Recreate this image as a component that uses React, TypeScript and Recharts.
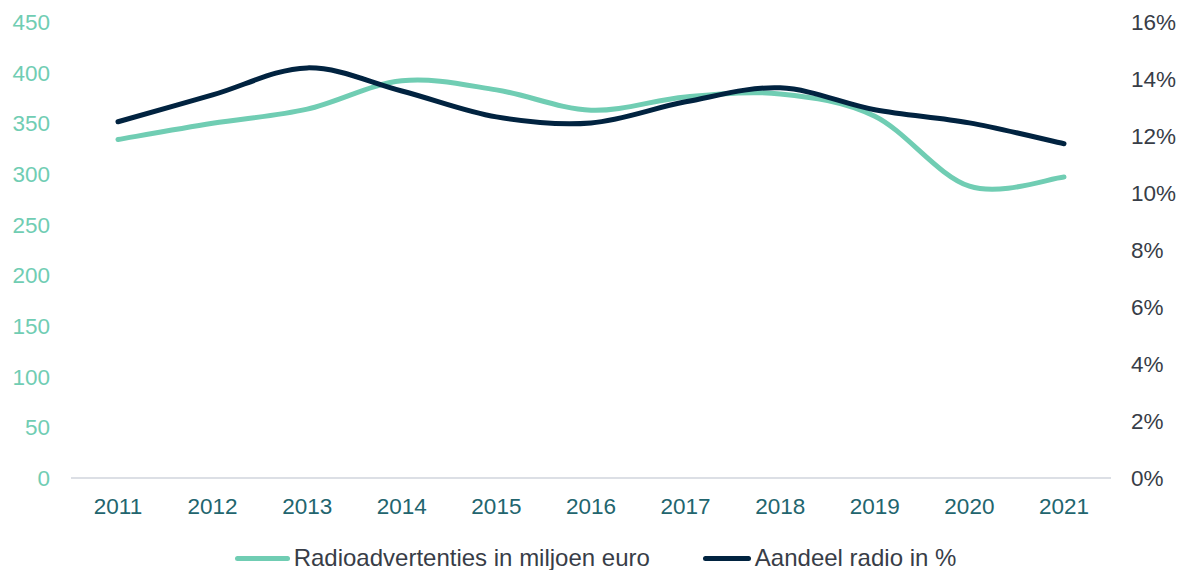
import { LineChart, Line, XAxis, YAxis, Legend } from "recharts";

const years = ["2011", "2012", "2013", "2014", "2015", "2016", "2017", "2018", "2019", "2020", "2021"];
const radioAds = [334, 350, 364, 392, 383, 363, 376, 379, 357, 288, 297];
const radioShare = [12.5, 13.44, 14.39, 13.58, 12.67, 12.46, 13.2, 13.69, 12.92, 12.46, 11.73];
const leftTicks = [0, 50, 100, 150, 200, 250, 300, 350, 400, 450];
const rightTicks = [0, 2, 4, 6, 8, 10, 12, 14, 16];

const data = years.map((year, i) => ({
  year,
  ads: radioAds[i],
  share: radioShare[i],
}));

const GREEN = "#70cdb3";
const NAVY = "#012340";
const FONT = "'Liberation Sans', Arial, sans-serif";

// Excel-like smoothed line (Catmull-Rom via cubic bezier)
function smoothCurve(context: any) {
  let pts: number[][] = [];
  return {
    areaStart() {},
    areaEnd() {},
    lineStart() {
      pts = [];
    },
    point(x: number, y: number) {
      pts.push([+x, +y]);
    },
    lineEnd() {
      if (!pts.length) return;
      context.moveTo(pts[0][0], pts[0][1]);
      for (let i = 0; i < pts.length - 1; i++) {
        const p0 = pts[i - 1] || pts[i];
        const p1 = pts[i];
        const p2 = pts[i + 1];
        const p3 = pts[i + 2] || pts[i + 1];
        context.bezierCurveTo(
          p1[0] + (p2[0] - p0[0]) / 6,
          p1[1] + (p2[1] - p0[1]) / 6,
          p2[0] - (p3[0] - p1[0]) / 6,
          p2[1] - (p3[1] - p1[1]) / 6,
          p2[0],
          p2[1]
        );
      }
    },
  };
}

const legendItems = [
  { label: "Radioadvertenties in miljoen euro", color: GREEN, len: 55 },
  { label: "Aandeel radio in %", color: NAVY, len: 48 },
];

function ChartLegend() {
  return (
    <div
      style={{
        height: 42,
        boxSizing: "border-box",
        paddingTop: 18,
        paddingLeft: 8,
        display: "flex",
        justifyContent: "center",
        gap: 53,
        fontFamily: FONT,
        fontSize: 24,
        lineHeight: "24px",
        color: "#383d47",
      }}
    >
      {legendItems.map((item) => (
        <div key={item.label} style={{ display: "flex", alignItems: "center" }}>
          <span
            style={{
              display: "inline-block",
              width: item.len,
              height: 5,
              borderRadius: 3,
              background: item.color,
              marginRight: 4,
            }}
          />
          <span style={{ whiteSpace: "nowrap" }}>{item.label}</span>
        </div>
      ))}
    </div>
  );
}

export default function App() {
  return (
    <div style={{ position: "absolute", left: 0, top: 0, background: "#fff" }}>
      <LineChart
        width={1183}
        height={570}
        data={data}
        margin={{ top: 22, right: 0, bottom: 0, left: 0 }}
        style={{ fontFamily: FONT }}
      >
        <XAxis
          dataKey="year"
          height={50}
          padding={{ left: 47, right: 47 }}
          tickLine={false}
          tickSize={0}
          tickMargin={20}
          axisLine={{ stroke: "#dcdfe5", strokeWidth: 2 }}
          tick={{ fontSize: 22.5, fill: "#22656e" }}
          interval={0}
        />
        <YAxis
          yAxisId="left"
          width={71}
          domain={[0, 450]}
          ticks={leftTicks}
          axisLine={false}
          tickLine={false}
          tickSize={0}
          tickMargin={21}
          tick={{ fontSize: 22.5, fill: GREEN }}
        />
        <YAxis
          yAxisId="right"
          orientation="right"
          width={72}
          domain={[0, 16]}
          ticks={rightTicks}
          axisLine={false}
          tickLine={false}
          tickSize={0}
          tickMargin={20}
          tickFormatter={(v) => `${v}%`}
          tick={{ fontSize: 22.5, fill: "#383d47" }}
        />
        <Legend verticalAlign="bottom" content={() => <ChartLegend />} />
        <Line
          yAxisId="left"
          dataKey="ads"
          name="Radioadvertenties in miljoen euro"
          type={smoothCurve as any}
          stroke={GREEN}
          strokeWidth={5}
          strokeLinecap="round"
          dot={false}
          activeDot={false}
          isAnimationActive={false}
        />
        <Line
          yAxisId="right"
          dataKey="share"
          name="Aandeel radio in %"
          type={smoothCurve as any}
          stroke={NAVY}
          strokeWidth={5}
          strokeLinecap="round"
          dot={false}
          activeDot={false}
          isAnimationActive={false}
        />
      </LineChart>
    </div>
  );
}
